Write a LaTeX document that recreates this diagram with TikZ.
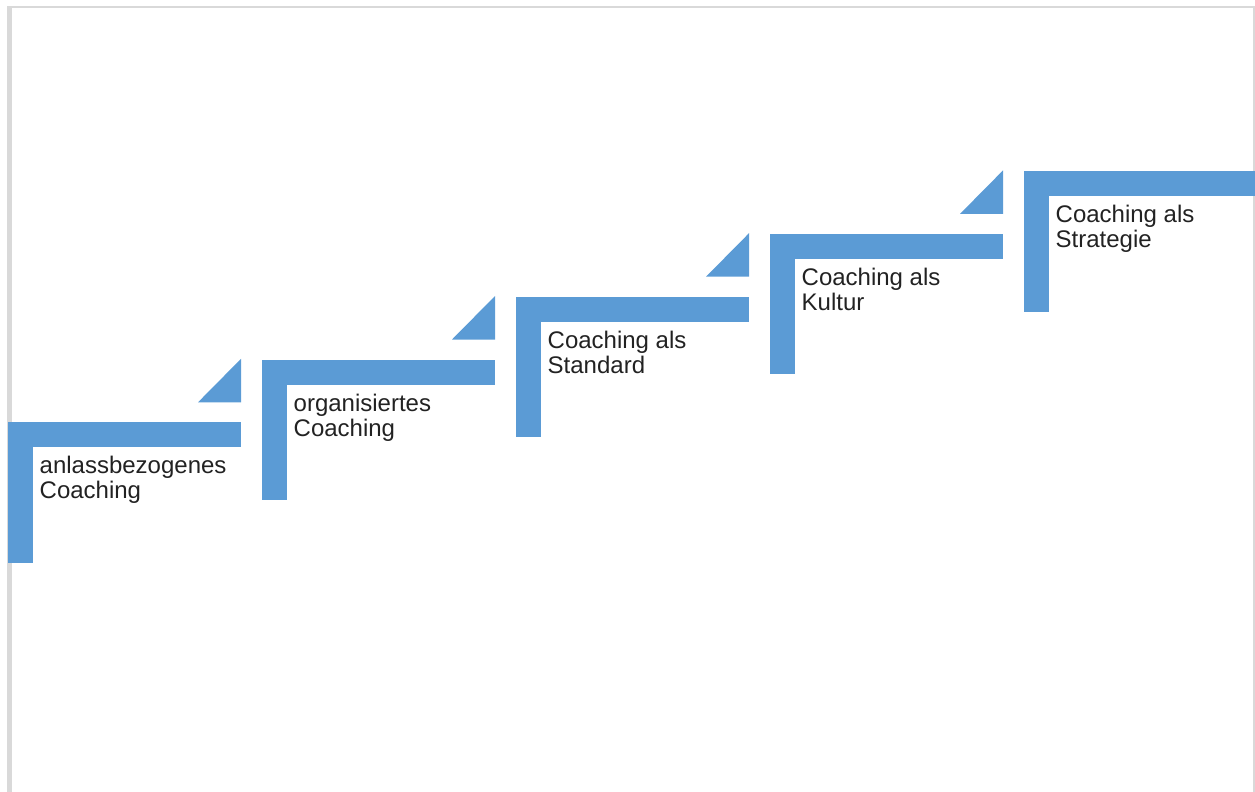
\documentclass[tikz,border=0pt]{standalone}
\usepackage{fontspec}
\setmainfont{Liberation Sans}
\definecolor{stepblue}{HTML}{5B9BD5}
\definecolor{framegray}{HTML}{D9D9D9}
\definecolor{txtgray}{HTML}{222222}
\begin{document}
\begin{tikzpicture}[x=1pt,y=-1pt,
  stepfill/.style={fill=stepblue,draw=none},
  framefill/.style={fill=framegray,draw=none},
  steplabel/.style={anchor=base west,inner sep=0pt,align=left,
    font=\fontsize{24}{25}\selectfont,text=txtgray}]
\useasboundingbox (0,0) rectangle (1255,792);
% frame
\fill[framefill] (7,6) rectangle (1255,8.5);
\fill[framefill] (7,6) rectangle (11.5,792);
\fill[framefill] (1253,6) rectangle (1255,792);
% steps
\foreach \i/\t in {0/{anlassbezogenes\\Coaching},
                   1/{organisiertes\\Coaching},
                   2/{Coaching als\\Standard},
                   3/{Coaching als\\Kultur},
                   4/{Coaching als\\Strategie}} {
  \pgfmathsetmacro\sx{8+254*\i}
  \pgfmathsetmacro\sy{422.3-62.8*\i}
  \fill[stepfill] (\sx,\sy) rectangle ++(233,25);
  \fill[stepfill] (\sx,\sy) rectangle ++(25,140.5);
  \ifnum\i<4
    \fill[stepfill] (\sx+190,\sy-20) -- (\sx+233,\sy-20) -- (\sx+233,\sy-63.5) -- cycle;
  \fi
  \node[steplabel] (label\i) at (\sx+31.5,\sy+76.5) {\t};
}
\end{tikzpicture}
\end{document}
